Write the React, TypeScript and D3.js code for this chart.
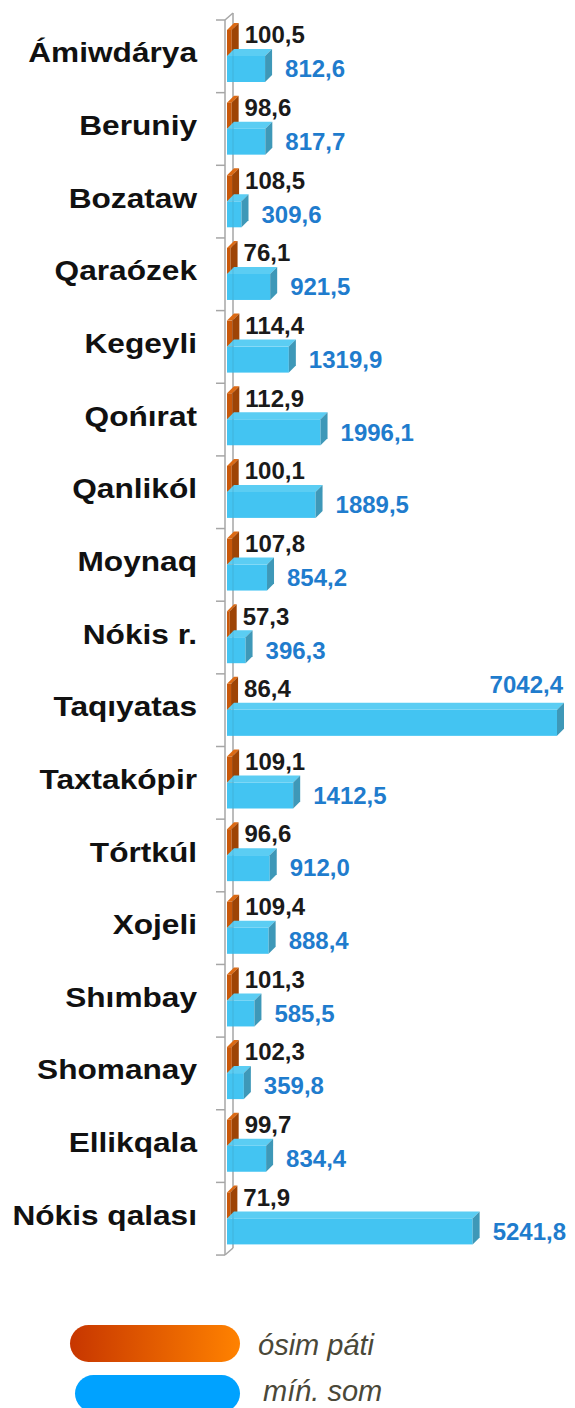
import React from "react";
import * as d3 from "d3";

// District names
const categories = [
  "Ámiwdárya", "Beruniy", "Bozataw", "Qaraózek", "Kegeyli", "Qońırat",
  "Qanlikól", "Moynaq", "Nókis r.", "Taqıyatas", "Taxtakópir", "Tórtkúl",
  "Xojeli", "Shımbay", "Shomanay", "Ellikqala", "Nókis qalası",
];
// Growth rate, %
const growth = [
  100.5, 98.6, 108.5, 76.1, 114.4, 112.9, 100.1, 107.8, 57.3, 86.4,
  109.1, 96.6, 109.4, 101.3, 102.3, 99.7, 71.9,
];
// Volume, mln. som
const volume = [
  812.6, 817.7, 309.6, 921.5, 1319.9, 1996.1, 1889.5, 854.2, 396.3, 7042.4,
  1412.5, 912.0, 888.4, 585.5, 359.8, 834.4, 5241.8,
];
const legendLabels = ["ósim páti", "míń. som"];

const W = 575;
const H = 1408;
const X0 = 227;
const DX = 7;
const DY = 7;
const BAR_H = 26;

const fmt = (v: number) => d3.format(".1f")(v).replace(".", ",");

function Bar3D({ x0, x1, y0, y1, front, top, side }: any) {
  const pts = (a: number[][]) => a.map((p) => p.join(",")).join(" ");
  return (
    <g>
      <rect x={x0} y={y0} width={Math.max(0, x1 - x0)} height={y1 - y0} fill={front} />
      <polygon points={pts([[x0, y0], [x0 + DX, y0 - DY], [x1 + DX, y0 - DY], [x1, y0]])} fill={top} />
      <polygon points={pts([[x1, y0], [x1 + DX, y0 - DY], [x1 + DX, y1 - DY], [x1, y1]])} fill={side} />
    </g>
  );
}

export default function App() {
  const y = d3.scaleBand<string>().domain(categories).range([20, 20 + 17 * 72.65]);
  const x = d3.scaleLinear().domain([0, 7042.4]).range([X0, 557]);
  const bw = y.bandwidth();
  const yTop = 20;
  const yBot = 20 + 17 * 72.65;
  const ticks = d3.range(categories.length + 1).map((k) => yTop + k * bw);
  const font = "'Liberation Sans', Arial, sans-serif";

  return (
    <svg width={W} height={H} style={{ position: "absolute", left: 0, top: 0 }}
      fontFamily={font}>
      <defs>
        <linearGradient id="legOrange" x1="0" x2="1" y1="0" y2="0">
          <stop offset="0" stopColor="#c73600" />
          <stop offset="1" stopColor="#ff8200" />
        </linearGradient>
      </defs>
      <rect width={W} height={H} fill="#ffffff" />

      {/* wall of the category axis */}
      <g stroke="#a6a6a6" strokeWidth={1.5} fill="none">
        <line x1={225} x2={225} y1={yTop} y2={yBot} />
        <line x1={233} x2={233} y1={yTop - 7} y2={yBot - 7} />
        <line x1={225} x2={233} y1={yTop} y2={yTop - 7} />
        <line x1={225} x2={233} y1={yBot} y2={yBot - 7} />
        {ticks.map((t, i) => (
          <line key={i} x1={216} x2={225} y1={t} y2={t} />
        ))}
      </g>

      {categories.map((c, i) => {
        const T = y(c)!;
        const g = growth[i];
        const v = volume[i];
        const oy0 = T + 10, oy1 = oy0 + BAR_H;
        const by0 = oy1, by1 = by0 + BAR_H;
        const bx1 = x(v);
        const ox1 = x(g);
        const overflow = bx1 + DX + 80 > W;
        return (
          <g key={c}>
            <text transform={`translate(197,${T + 35}) scale(1.13,1)`} textAnchor="end"
              dominantBaseline="middle" fontSize={28} fontWeight="bold" fill="#111">{c}</text>
            <Bar3D x0={X0} x1={ox1} y0={oy0} y1={oy1}
              front="#c9580a" top="#dc6a14" side="#9e4405" />
            <Bar3D x0={X0} x1={bx1} y0={by0} y1={by1}
              front="#43c4f2" top="#5bcdf3" side="#3e98b8" />
            <line x1={233} x2={233} y1={by0 - DY} y2={by1} stroke="#3a8fb0" strokeOpacity={0.35} strokeWidth={1} />
            <text x={ox1 + DX + 6} y={T + 17} dominantBaseline="middle"
              fontSize={24} fontWeight="bold" fill="#1a1a1a">{fmt(g)}</text>
            {overflow ? (
              <text x={bx1 + DX - 1} y={T + 13} textAnchor="end" dominantBaseline="middle"
                fontSize={24} fontWeight="bold" fill="#1f7ccd">{fmt(v)}</text>
            ) : (
              <text x={bx1 + DX + 13} y={(by0 + by1) / 2 + 2} dominantBaseline="middle"
                fontSize={24} fontWeight="bold" fill="#1f7ccd">{fmt(v)}</text>
            )}
          </g>
        );
      })}

      {/* legend */}
      <rect x={70} y={1325} width={170} height={37} rx={18.5} fill="url(#legOrange)" />
      <rect x={75} y={1375} width={165} height={37} rx={18.5} fill="#00a2ff" />
      <text x={258} y={1355} fontSize={29} fontStyle="italic" fill="#4a4838">{legendLabels[0]}</text>
      <text x={263} y={1401} fontSize={29} fontStyle="italic" fill="#4a4838">{legendLabels[1]}</text>
    </svg>
  );
}
